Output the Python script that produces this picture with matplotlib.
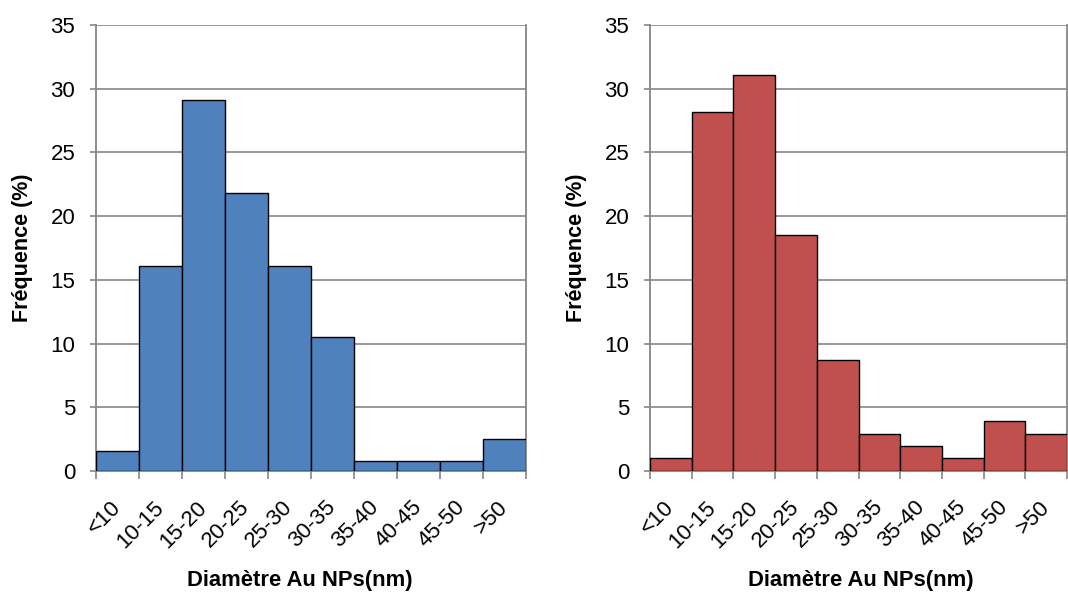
import numpy as np
import matplotlib
matplotlib.use("Agg")
from matplotlib import pyplot as plt

# bin labels (diameter classes)
categories = ["<10", "10-15", "15-20", "20-25", "25-30", "30-35",
              "35-40", "40-45", "45-50", ">50"]

# frequencies (%)
freq_left = [1.6, 16.1, 29.1, 21.8, 16.1, 10.5, 0.8, 0.8, 0.8, 2.5]
freq_right = [1.0, 28.2, 31.1, 18.5, 8.7, 2.9, 2.0, 1.0, 3.9, 2.9]

plt.rcParams['font.family'] = ['Liberation Sans', 'DejaVu Sans']

fig = plt.figure(figsize=(10.68, 5.95), dpi=100)
ax1 = fig.add_axes([0.0899, 0.2084, 0.4026, 0.7496])
ax2 = fig.add_axes([0.6086, 0.2084, 0.3905, 0.7496])

grid_col = "#868686"


def draw(ax, values, color, xlab_x, ylab_x):
    x = np.arange(len(categories))
    ax.bar(x, values, width=1.0, align='edge', color=color,
           edgecolor='black', linewidth=1.0, zorder=3)
    ax.set_xlim(0, len(categories))
    ax.set_ylim(0, 35)
    ax.set_yticks(range(0, 36, 5))
    ax.yaxis.grid(True, color=grid_col, linewidth=1.2, zorder=0)
    # ticks at bin boundaries, labels at bin centres
    ax.set_xticks(range(len(categories) + 1))
    ax.set_xticklabels([])
    ax.set_xticks(x + 0.5, minor=True)
    ax.set_xticklabels(categories, minor=True, rotation=45, ha='right',
                       va='center', rotation_mode='anchor', fontsize=16)
    ax.tick_params(axis='x', which='minor', length=0, pad=24)
    ax.tick_params(axis='x', which='major', length=6, width=1.2, color=grid_col)
    ax.tick_params(axis='y', length=4, width=1.2, color=grid_col,
                   labelsize=16, pad=11)
    for s in ['left', 'right', 'bottom']:
        ax.spines[s].set_color(grid_col)
        ax.spines[s].set_linewidth(1.3)
    ax.spines['top'].set_visible(False)
    ax.set_xlabel("Diamètre Au NPs(nm)", fontsize=15.8, fontweight='bold')
    ax.set_ylabel("Fréquence (%)", fontsize=15.5, fontweight='bold')
    ax.xaxis.set_label_coords(xlab_x, -0.222)
    ax.yaxis.set_label_coords(ylab_x, 0.5)


draw(ax1, freq_left, "#4F81BD", 0.474, -0.147)
draw(ax2, freq_right, "#C0504D", 0.506, -0.151)

plt.savefig("out.png", dpi=100)
